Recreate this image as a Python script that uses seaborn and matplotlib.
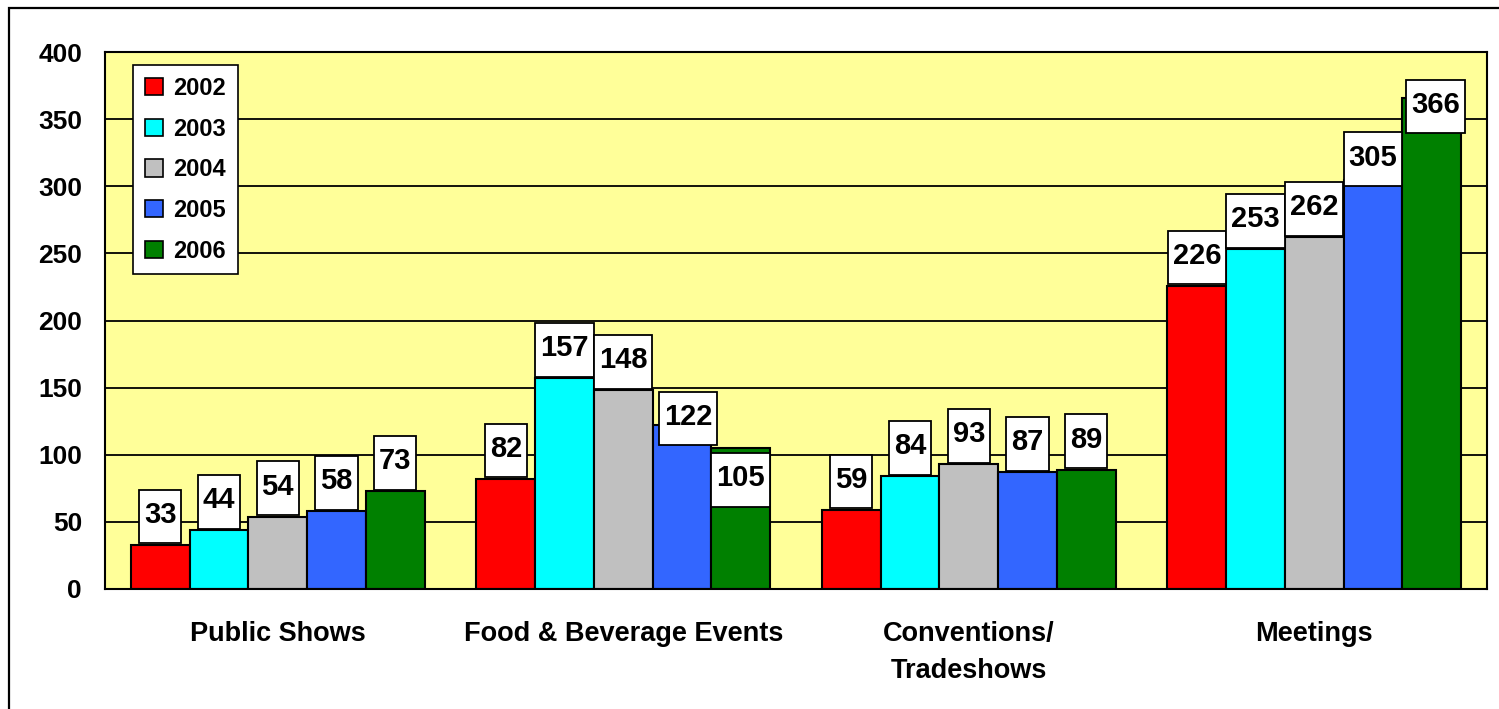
import numpy as np
import pandas as pd
import matplotlib
matplotlib.use("Agg")
import matplotlib.pyplot as plt
from matplotlib.path import Path
from matplotlib.patches import Patch, Rectangle
from matplotlib.ticker import FixedLocator
import seaborn as sns

# Event counts per category and year
categories = ["Public Shows", "Food & Beverage Events", "Conventions/\nTradeshows", "Meetings"]
years = ["2002", "2003", "2004", "2005", "2006"]
v2002 = [33, 82, 59, 226]
v2003 = [44, 157, 84, 253]
v2004 = [54, 148, 93, 262]
v2005 = [58, 122, 87, 305]
v2006 = [73, 105, 89, 366]
yticks = [0, 50, 100, 150, 200, 250, 300, 350, 400]

series = [v2002, v2003, v2004, v2005, v2006]
colors = ["#FF0000", "#00FFFF", "#C0C0C0", "#3366FF", "#008000"]

rows = []
for year, vals in zip(years, series):
    for cat, v in zip(categories, vals):
        rows.append({"category": cat, "year": year, "value": v})
df = pd.DataFrame(rows)

sns.set_style("white")
plt.rcParams["font.family"] = ["Liberation Sans", "DejaVu Sans"]
plt.rcParams["font.weight"] = "bold"
for key in ["text.color", "axes.labelcolor", "xtick.color", "ytick.color"]:
    plt.rcParams[key] = "black"

W, H = 1499, 709
fig = plt.figure(figsize=(W / 100, H / 100), dpi=100)
fig.patch.set_facecolor("white")
ax = fig.add_axes([105 / W, 1 - 589 / H, (1487 - 105) / W, (589 - 52) / H])
ax.set_facecolor("#FFFF99")

sns.barplot(data=df, x="category", y="value", hue="year", order=categories,
            hue_order=years, palette=colors, width=0.85, gap=0, dodge=True,
            saturation=1, errorbar=None, edgecolor="black", linewidth=1.5,
            legend=False, ax=ax)

ax.set_xlim(-0.5, 3.5)
ax.set_ylim(0, 400)
ax.set_axisbelow(True)
ax.yaxis.grid(True, color="black", linewidth=1.3)
ax.xaxis.grid(False)
for s in ax.spines.values():
    s.set_visible(True)
    s.set_color("black")
    s.set_linewidth(1.5)

ax.set_xlabel("")
ax.set_ylabel("")
ax.set_yticks(yticks)
ax.set_yticklabels([str(t) for t in yticks], fontsize=19, fontweight="bold", color="black")
ax.tick_params(axis="y", direction="out", length=6.5, width=1.3, pad=10, colors="black")
ax.set_xticks(range(len(categories)))
ax.set_xticklabels(categories, fontsize=19.5, fontweight="bold", linespacing=1.55, color="black")
ax.tick_params(axis="x", which="major", length=0, pad=23, colors="black")
ax.xaxis.set_minor_locator(FixedLocator([-0.5, 0.5, 1.5, 2.5, 3.5]))
ax.tick_params(axis="x", which="minor", direction="out", length=6, width=1.3, colors="black")


def label_box(x0, y0, width, height, mutation_size):
    px = 0.17 * mutation_size
    pb = 0.5 * mutation_size
    pt = 0.38 * mutation_size
    verts = [(x0 - px, y0 - pb), (x0 + width + px, y0 - pb),
             (x0 + width + px, y0 + height + pt), (x0 - px, y0 + height + pt),
             (x0 - px, y0 - pb)]
    return Path(verts, closed=True)


# label shifts (pixels) where boxes would collide or leave the plot
nudge = {(1, 3): (6, 8.5), (1, 4): (0, -30), (3, 3): (0, 22), (3, 4): (4, -7)}
for i, vals in enumerate(series):
    bars = ax.containers[i]
    for j, v in enumerate(vals):
        bar = bars[j]
        x = bar.get_x() + bar.get_width() / 2
        dx, dy = nudge.get((j, i), (0, 30))
        ax.annotate(str(v), xy=(x, v), xytext=(dx * 0.72, dy * 0.72),
                    textcoords="offset points", ha="center", va="center",
                    fontsize=21, fontweight="bold", color="black", zorder=6,
                    annotation_clip=False,
                    bbox=dict(boxstyle=label_box, fc="white", ec="black", lw=1.3))

handles = [Patch(facecolor=c, edgecolor="black", linewidth=1.2) for c in colors]
leg = ax.legend(handles, years, loc="upper left", bbox_to_anchor=(28 / 1382, 1 - 13 / 537),
                frameon=True, fancybox=False, edgecolor="black", framealpha=1,
                prop={"size": 17, "weight": "bold"}, handlelength=0.75,
                handleheight=0.75, labelspacing=0.75, handletextpad=0.45,
                borderpad=0.5, borderaxespad=0)
leg.get_frame().set_linewidth(1.2)
for t in leg.get_texts():
    t.set_color("black")
leg.set_zorder(7)

fig.add_artist(Rectangle((9 / W, -0.1), 1.2, 1.1 - 8 / H, transform=fig.transFigure,
                         fill=False, edgecolor="black", linewidth=1.6, clip_on=False))

fig.savefig("out.png", dpi=100)
